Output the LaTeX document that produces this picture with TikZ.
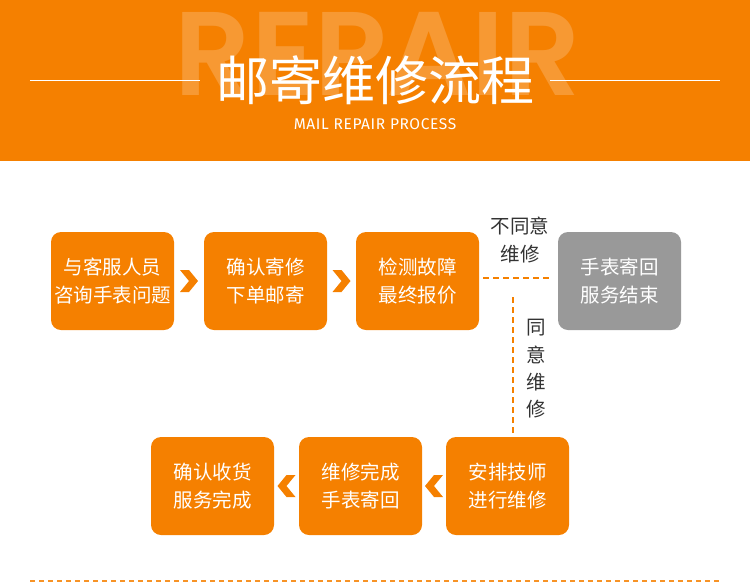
\documentclass[tikz,border=0pt]{standalone}
\usepackage{fontspec}
\setmainfont{Noto Sans CJK SC}
\newfontfamily\latinfont{Fira Sans}[LetterSpace=4]
\newfontfamily\bigfont{Poppins}[UprightFont=* SemiBold]
\usetikzlibrary{calc}
\definecolor{brand}{RGB}{245,128,0}
\definecolor{greybox}{RGB}{153,153,153}
\definecolor{labeltext}{RGB}{51,51,51}
\begin{document}
\begin{tikzpicture}[x=1pt,y=-1pt,
  stepbox/.style={fill=brand, rounded corners=10pt, minimum width=123pt, minimum height=98pt,
    inner sep=0pt, text=white, align=center, font=\fontsize{19.5}{28}\selectfont},
  endbox/.style={stepbox, fill=greybox},
  flowdash/.style={draw=brand, line width=2pt, dash pattern=on 6pt off 4pt},
  note/.style={text=labeltext, align=center, font=\fontsize{19.5}{28}\selectfont, inner sep=0pt},
  chevron/.style={fill=brand, draw=none}
]
\useasboundingbox (0,0) rectangle (750,582);
% header
\fill[brand] (0,0) rectangle (750,161);
\node[text=white, opacity=0.2, font=\bigfont\fontsize{119}{119}\selectfont, inner sep=0pt, anchor=base] (wm) at (378,95) {REPAIR};
\draw[white, line width=1pt] (30,80) -- (200,80);
\draw[white, line width=1pt] (550,80) -- (720,80);
\node[text=white, font=\fontsize{53}{53}\selectfont, inner sep=0pt] (title) at (375,80) {邮寄维修流程};
\node[text=white, font=\latinfont\fontsize{15.5}{15.5}\selectfont, inner sep=0pt] (sub) at (375,124) {MAIL REPAIR PROCESS};

% top row
\node[stepbox] (s1) at (112.5,281) {与客服人员\\咨询手表问题};
\node[stepbox] (s2) at (265.5,281) {确认寄修\\下单邮寄};
\node[stepbox] (s3) at (417.5,281) {检测故障\\最终报价};
\node[endbox]  (s4) at (619.5,281) {手表寄回\\服务结束};
% bottom row
\node[stepbox] (s5) at (507.5,486) {安排技师\\进行维修};
\node[stepbox] (s6) at (360.5,486) {维修完成\\手表寄回};
\node[stepbox] (s7) at (212.5,486) {确认收货\\服务完成};

% chevrons (right-pointing)
\foreach \a/\b in {s1/s2, s2/s3}{
  \coordinate (m) at ($(\a.east)!0.5!(\b.west)$);
  \fill[chevron] ($(m)+(-9,-11)$) -- ($(m)+(0,-11)$) -- ($(m)+(9,0)$) -- ($(m)+(0,11)$) -- ($(m)+(-9,11)$) -- ($(m)+(0,0)$) -- cycle;
}
% chevrons (left-pointing)
\foreach \a/\b in {s5/s6, s6/s7}{
  \coordinate (m) at ($(\a.west)!0.5!(\b.east)$);
  \fill[chevron] ($(m)+(9,-11)$) -- ($(m)+(0,-11)$) -- ($(m)+(-9,0)$) -- ($(m)+(0,11)$) -- ($(m)+(9,11)$) -- ($(m)+(0,0)$) -- cycle;
}

% decision branches
\draw[flowdash] ([xshift=4pt,yshift=3pt]s3.east) -- ([xshift=-5pt,yshift=3pt]s4.west);
\coordinate (vtop) at (513,297);
\draw[flowdash] (vtop) -- ([yshift=-10pt]s5.north -| vtop);
\node[note] (no) at (520,240) {不同意\\维修};
\node[note, font=\fontsize{19.5}{27.3}\selectfont] (yes) at (536,369) {同\\意\\维\\修};

% bottom dashed rule
\coordinate (rl) at (30,581);
\coordinate (rr) at (720,581);
\draw[brand!85, line width=1.2pt, dash pattern=on 5pt off 4pt] (rl) -- (rr);
\end{tikzpicture}
\end{document}
